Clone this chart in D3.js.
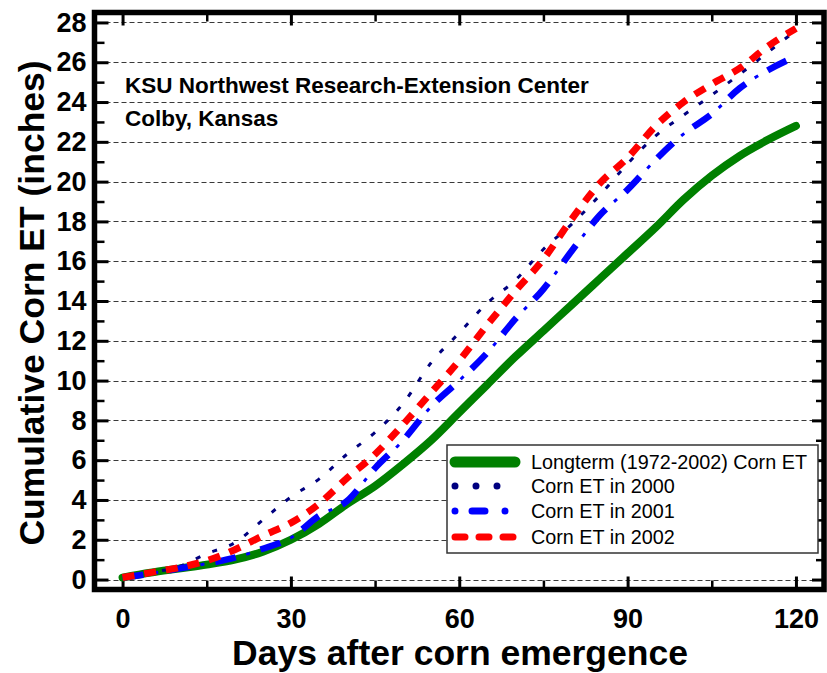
<!DOCTYPE html>
<html>
<head>
<meta charset="utf-8">
<script src="https://cdn.jsdelivr.net/npm/d3@7"></script>
<style>
  body { margin: 0; background: #fff; }
  svg { display: block; font-family: "Liberation Sans", Arial, sans-serif; }
</style>
</head>
<body>
<svg id="chart" width="827" height="673"></svg>
<script>
// data (days after emergence, cumulative ET in inches)
var days     = [0, 5, 10, 15, 20, 25, 30, 35, 40, 45, 50, 55, 60, 65, 70, 75, 80, 85, 90, 95, 100, 105, 110, 115, 120];
var longterm = [0.1, 0.35, 0.55, 0.75, 1.0, 1.4, 2.0, 2.8, 3.8, 4.7, 5.8, 7.0, 8.4, 9.8, 11.2, 12.5, 13.8, 15.1, 16.4, 17.7, 19.1, 20.3, 21.3, 22.1, 22.8];
var et2000   = [0.1, 0.35, 0.65, 1.3, 1.85, 3.0, 4.15, 5.05, 6.3, 7.4, 8.85, 10.9, 12.4, 13.9, 15.05, 16.6, 17.85, 19.3, 20.9, 22.3, 23.35, 24.35, 25.4, 26.5, 27.6];
var et2001   = [0.1, 0.3, 0.55, 0.8, 1.1, 1.55, 2.1, 3.2, 3.95, 5.6, 7.0, 8.7, 10.0, 11.4, 13.1, 14.6, 16.5, 18.3, 19.6, 21.1, 22.4, 23.4, 24.7, 25.6, 26.3];
var et2002   = [0.1, 0.35, 0.6, 0.95, 1.5, 2.2, 2.85, 3.8, 5.1, 6.3, 7.8, 9.4, 11.0, 12.8, 14.5, 16.1, 18.1, 19.9, 21.2, 22.8, 24.0, 24.9, 25.7, 26.8, 27.7];

var seriesNames = ["Longterm (1972-2002) Corn ET", "Corn ET in 2000", "Corn ET in 2001", "Corn ET in 2002"];
var xMajor = [0, 30, 60, 90, 120];
var xMinor = [15, 45, 75, 105];
var yMajor = [0, 2, 4, 6, 8, 10, 12, 14, 16, 18, 20, 22, 24, 26, 28];
var yMinor = [1, 3, 5, 7, 9, 11, 13, 15, 17, 19, 21, 23, 25, 27];

var svg = d3.select("#chart");

// frame of the plot area
var frame = {left: 94.5, right: 824, top: 12.5, bottom: 589.5};

var x = d3.scaleLinear().domain([-5, 125]).range([frame.left, frame.right]);
var y = d3.scaleLinear().domain([-0.5, 28.5]).range([frame.bottom, frame.top]);

// dashed horizontal grid
svg.append("g")
  .selectAll("line")
  .data(yMajor)
  .enter().append("line")
    .attr("x1", frame.left + 3)
    .attr("x2", frame.right - 3)
    .attr("y1", function(d) { return Math.round(y(d)) + 0.5; })
    .attr("y2", function(d) { return Math.round(y(d)) + 0.5; })
    .attr("stroke", "#3a3a3a")
    .attr("stroke-width", 1.2)
    .attr("stroke-dasharray", "5,3");

// axes: major ticks with labels, minor ticks without, all pointing inward
function styleAxis(g, w) {
  g.select(".domain").remove();
  g.selectAll(".tick line").attr("stroke", "#000").attr("stroke-width", w);
  g.selectAll(".tick text")
    .attr("fill", "#000")
    .style("font-size", "27px")
    .style("font-weight", "bold");
}

svg.append("g")
    .attr("transform", "translate(0," + frame.bottom + ")")
    .call(d3.axisBottom(x).tickValues(xMajor).tickSize(-13).tickPadding(19).tickFormat(d3.format("d")))
    .call(styleAxis, 3);
svg.append("g")
    .attr("transform", "translate(0," + frame.bottom + ")")
    .call(d3.axisBottom(x).tickValues(xMinor).tickSize(-9).tickFormat(""))
    .call(styleAxis, 2.5);
svg.append("g")
    .attr("transform", "translate(0," + frame.top + ")")
    .call(d3.axisTop(x).tickValues(xMajor).tickSize(-13).tickFormat(""))
    .call(styleAxis, 3);
svg.append("g")
    .attr("transform", "translate(0," + frame.top + ")")
    .call(d3.axisTop(x).tickValues(xMinor).tickSize(-9).tickFormat(""))
    .call(styleAxis, 2.5);

svg.append("g")
    .attr("transform", "translate(" + frame.left + ",0)")
    .call(d3.axisLeft(y).tickValues(yMajor).tickSize(-14).tickPadding(8).tickFormat(d3.format("d")))
    .call(styleAxis, 3);
svg.append("g")
    .attr("transform", "translate(" + frame.left + ",0)")
    .call(d3.axisLeft(y).tickValues(yMinor).tickSize(-10).tickFormat(""))
    .call(styleAxis, 2.5);
svg.append("g")
    .attr("transform", "translate(" + frame.right + ",0)")
    .call(d3.axisRight(y).tickValues(yMajor).tickSize(-12).tickFormat(""))
    .call(styleAxis, 3);
svg.append("g")
    .attr("transform", "translate(" + frame.right + ",0)")
    .call(d3.axisRight(y).tickValues(yMinor).tickSize(-8).tickFormat(""))
    .call(styleAxis, 2.5);

// the lines
var line = d3.line()
    .x(function(d) { return x(d[0]); })
    .y(function(d) { return y(d[1]); })
    .curve(d3.curveMonotoneX);

function pairs(vals) { return days.map(function(d, i) { return [d, vals[i]]; }); }

svg.append("path")
    .attr("d", line(pairs(longterm)))
    .attr("fill", "none").attr("stroke", "#008000").attr("stroke-width", 8)
    .attr("stroke-linecap", "round").attr("stroke-linejoin", "round");

svg.append("path")
    .attr("d", line(pairs(et2000)))
    .attr("fill", "none").attr("stroke", "#000080").attr("stroke-width", 3)
    .attr("stroke-dasharray", "5,13").attr("stroke-dashoffset", -40);

// 2001: thick dash followed by a thin short dash
svg.append("path")
    .attr("d", line(pairs(et2001)))
    .attr("fill", "none").attr("stroke", "#0000ff").attr("stroke-width", 6.5)
    .attr("stroke-dasharray", "21,26");
svg.append("path")
    .attr("d", line(pairs(et2001)))
    .attr("fill", "none").attr("stroke", "#0000ff").attr("stroke-width", 3)
    .attr("stroke-dasharray", "0,32,4,11");

svg.append("path")
    .attr("d", line(pairs(et2002)))
    .attr("fill", "none").attr("stroke", "#ff0000").attr("stroke-width", 7)
    .attr("stroke-dasharray", "12,10");

// frame on top
svg.append("rect")
    .attr("x", frame.left).attr("y", frame.top)
    .attr("width", frame.right - frame.left).attr("height", frame.bottom - frame.top)
    .attr("fill", "none").attr("stroke", "#000").attr("stroke-width", 5.5);

// site label
svg.append("text").attr("x", 125).attr("y", 93)
    .style("font-size", "22.5px").style("font-weight", "bold")
    .text("KSU Northwest Research-Extension Center");
svg.append("text").attr("x", 125).attr("y", 126)
    .style("font-size", "22.5px").style("font-weight", "bold")
    .text("Colby, Kansas");

// legend
var legend = svg.append("g").attr("transform", "translate(447,445)");
legend.append("rect")
    .attr("width", 371).attr("height", 108)
    .attr("fill", "#fff").attr("stroke", "#333").attr("stroke-width", 1.5);

var sampleStyle = [
  {color: "#008000", width: 11, dash: null},
  {color: "#000080", width: 7, dash: "0,21"},
  {color: "#0000ff", width: 7, dash: "0,17,13,20"},
  {color: "#ff0000", width: 7, dash: "10,14"}
];
var rowY = [17, 41, 66, 92];

legend.selectAll(".sample")
  .data(seriesNames)
  .enter().append("line")
    .attr("class", "sample")
    .attr("x1", 8).attr("x2", 68)
    .attr("y1", function(d, i) { return rowY[i]; })
    .attr("y2", function(d, i) { return rowY[i]; })
    .attr("stroke", function(d, i) { return sampleStyle[i].color; })
    .attr("stroke-width", function(d, i) { return sampleStyle[i].width; })
    .attr("stroke-linecap", "round")
    .attr("stroke-dasharray", function(d, i) { return sampleStyle[i].dash; });

legend.selectAll(".label")
  .data(seriesNames)
  .enter().append("text")
    .attr("class", "label")
    .attr("x", 84)
    .attr("y", function(d, i) { return rowY[i]; })
    .attr("dy", "0.35em")
    .style("font-size", "19.8px")
    .text(function(d) { return d; });

// axis titles
svg.append("text")
    .attr("x", 460).attr("y", 665)
    .attr("text-anchor", "middle")
    .style("font-size", "35.5px").style("font-weight", "bold")
    .text("Days after corn emergence");
svg.append("text")
    .attr("transform", "translate(44,303) rotate(-90)")
    .attr("text-anchor", "middle")
    .style("font-size", "35.5px").style("font-weight", "bold")
    .text("Cumulative Corn ET (inches)");
</script>
</body>
</html>
